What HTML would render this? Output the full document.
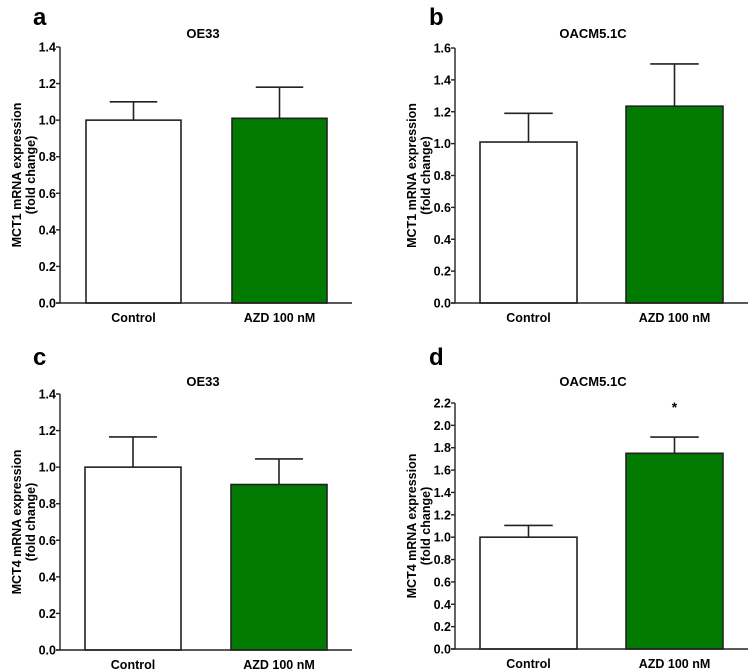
<!DOCTYPE html>
<html><head><meta charset="utf-8"><style>
body{margin:0;background:#fff}
svg{display:block;font-family:"Liberation Sans",Arial,sans-serif;font-weight:bold}
</style></head><body>
<svg id="fig" width="749" height="672" viewBox="0 0 749 672"></svg>
<script>
const categories = ["Control", "AZD 100 nM"];
const panelLetters = ["a", "b", "c", "d"];
const panelTitles = ["OE33", "OACM5.1C", "OE33", "OACM5.1C"];
const yTitles = ["MCT1 mRNA expression", "MCT1 mRNA expression", "MCT4 mRNA expression", "MCT4 mRNA expression"];
const yMaxes = [1.4, 1.6, 1.4, 2.2];
const meansA = [1.0, 1.01];
const errA = [1.10, 1.18];
const meansB = [1.01, 1.235];
const errB = [1.19, 1.50];
const meansC = [1.0, 0.905];
const errC = [1.165, 1.045];
const meansD = [1.0, 1.75];
const errD = [1.105, 1.895];
const sigMarks = [["", ""], ["", ""], ["", ""], ["", "*"]];

const NS = "http://www.w3.org/2000/svg";
const svg = document.getElementById("fig");
function mk(tag, attrs, parent, text) {
  const e = document.createElementNS(NS, tag);
  for (const k in attrs) e.setAttribute(k, attrs[k]);
  if (text !== undefined) e.textContent = text;
  (parent || svg).appendChild(e);
  return e;
}
const layouts = [
  {ax: 60, top: 47, bot: 303, xend: 352, b0: 86, b1: 232, bw: 95, lx: 33, ly: 25, tx: 203, ty: 38, yt: 11},
  {ax: 455, top: 48, bot: 303, xend: 748, b0: 480, b1: 626, bw: 97, lx: 429, ly: 25, tx: 593, ty: 38, yt: 406},
  {ax: 60, top: 394, bot: 650, xend: 352, b0: 85, b1: 231, bw: 96, lx: 33, ly: 365, tx: 203, ty: 386, yt: 11},
  {ax: 455, top: 403, bot: 649, xend: 748, b0: 480, b1: 626, bw: 97, lx: 429, ly: 365, tx: 593, ty: 386, yt: 406}
];
const meansAll = [meansA, meansB, meansC, meansD];
const errAll = [errA, errB, errC, errD];
const fills = ["#ffffff", "#007a00"];

layouts.forEach((L, p) => {
  const g = mk("g", {});
  
  
  const ymax = yMaxes[p];
  const y = v => L.bot - (v / ymax) * (L.bot - L.top);
  const lt = mk("text", {x: L.lx, y: L.ly, "font-size": 24}, g, panelLetters[p]);
  
  
  const tt = mk("text", {x: L.tx, y: L.ty, "font-size": 13, "text-anchor": "middle"}, g, panelTitles[p]);
  
  
  const cy = (L.top + L.bot) / 2;
  const yt = mk("text", {transform: `translate(${L.yt + 10},${cy}) rotate(-90)`, "font-size": 12.5, "text-anchor": "middle"}, g);
  
  
  mk("tspan", {x: 0, dy: 0}, yt, yTitles[p]);
  mk("tspan", {x: 0, dy: 14}, yt, "(fold change)");
  [L.b0, L.b1].forEach((bx, i) => {
    const m = meansAll[p][i], e = errAll[p][i];
    const cx = bx + L.bw / 2;
    const el = mk("line", {x1: cx, x2: cx, y1: y(m), y2: y(e), stroke: "#222", "stroke-width": 1.6}, g);
    
    
    const cap = mk("line", {x1: cx - L.bw / 4, x2: cx + L.bw / 4, y1: y(e), y2: y(e), stroke: "#222", "stroke-width": 1.6}, g);
    
    
    const r = mk("rect", {x: bx, y: y(m), width: L.bw, height: L.bot - y(m), fill: fills[i], stroke: "#222", "stroke-width": 1.6}, g);
    
    
    const cl = mk("text", {x: cx, y: L.bot + 19, "font-size": 12.5, "text-anchor": "middle"}, g, categories[i]);
    
    
    if (sigMarks[p][i]) {
      const s = mk("text", {x: cx, y: y(e) - 25, "font-size": 14, "text-anchor": "middle"}, g, sigMarks[p][i]);
      
      
    }
  });
  const ya = mk("line", {x1: L.ax, x2: L.ax, y1: L.top, y2: L.bot, stroke: "#222", "stroke-width": 1.4}, g);
  
  
  const xa = mk("line", {x1: L.ax - 4, x2: L.xend, y1: L.bot, y2: L.bot, stroke: "#222", "stroke-width": 1.4}, g);
  
  
  const n = Math.round(ymax / 0.2);
  for (let k = 0; k <= n; k++) {
    const v = k * 0.2;
    mk("line", {x1: L.ax - 4, x2: L.ax, y1: y(v), y2: y(v), stroke: "#222", "stroke-width": 1.4}, g);
    const t = mk("text", {x: L.ax - 4, y: y(v) + 4.5, "font-size": 12.5, "text-anchor": "end"}, g, v.toFixed(1));
    
    
  }
});
</script>
</body></html>
